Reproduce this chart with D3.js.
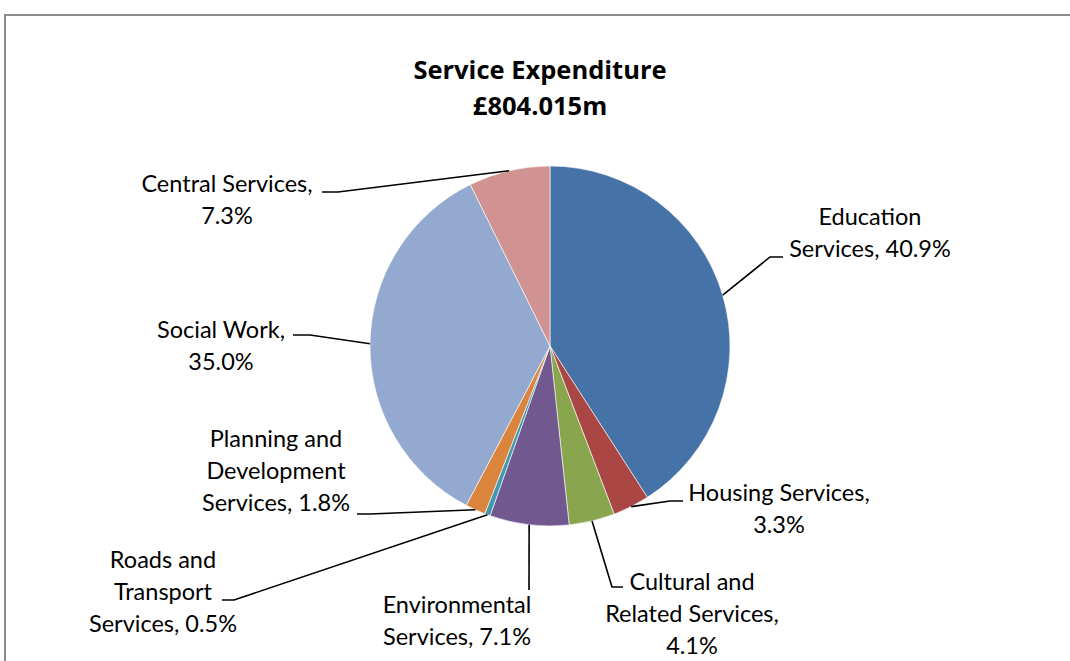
<!DOCTYPE html>
<html>
<head>
<meta charset="utf-8">
<script src="https://cdn.jsdelivr.net/npm/d3@7"></script>
<style>
  html, body { margin: 0; padding: 0; background: #fff; }
  svg { display: block; }
  text { font-family: Lato, "Open Sans", sans-serif; fill: #000; }
</style>
</head>
<body>
<svg id="chart" width="1070" height="661"></svg>
<script>
// Service expenditure breakdown (percent of total)
const categories = [
  "Education Services",
  "Housing Services",
  "Cultural and Related Services",
  "Environmental Services",
  "Roads and Transport Services",
  "Planning and Development Services",
  "Social Work",
  "Central Services"
];
const shares = [40.9, 3.3, 4.1, 7.1, 0.5, 1.8, 35.0, 7.3];
const colors = ["#4572A7", "#AA4643", "#89A54E", "#71588F", "#4198AF", "#DB843D", "#93A9CF", "#D19392"];
const titleLines = ["Service Expenditure", "£804.015m"];

// Label placement: text centre, first baseline, word-break points, leader elbow and end
const labelLayout = [
  { x: 870, y: 225, breaks: [1],    elbow: [770, 257], end: [783, 257] },
  { x: 779, y: 501, breaks: [2],    elbow: [670, 501], end: [683, 501] },
  { x: 692, y: 590, breaks: [2, 4], elbow: [612, 587], end: [623, 587] },
  { x: 457, y: 613, breaks: [1],    elbow: [529, 590], end: [529, 590] },
  { x: 163, y: 568, breaks: [2, 3], elbow: [234, 600], end: [222, 600] },
  { x: 276, y: 447, breaks: [2, 3], elbow: [370, 514], end: [357, 514] },
  { x: 221, y: 338, breaks: [2],    elbow: [310, 335], end: [293, 335] },
  { x: 227, y: 192, breaks: [2],    elbow: [338, 192], end: [322, 192] }
];
const lineGap = 32;

const svg = d3.select("#chart");
const cx = 550, cy = 346, R = 180;

// chart area frame
svg.append("rect")
  .attr("x", 5).attr("y", 15)
  .attr("width", 1200).attr("height", 800)
  .attr("fill", "#fff")
  .attr("stroke", "#8c8c8c")
  .attr("stroke-width", 2);

// title
const title = svg.append("text")
  .attr("text-anchor", "middle")
  .style("font-family", "'Open Sans', Lato, sans-serif")
  .style("font-weight", "bold")
  .style("font-size", "25.5px");
titleLines.forEach((t, i) => {
  title.append("tspan").attr("x", 540).attr("y", 79 + i * 36).text(t);
});

const data = categories.map((c, i) => ({ name: c, value: shares[i], color: colors[i], layout: labelLayout[i] }));

const pie = d3.pie().sort(null).value(d => d.value).startAngle(0).endAngle(2 * Math.PI);
const arcs = pie(data);
const arc = d3.arc().innerRadius(0).outerRadius(R);
const edge = d3.arc().innerRadius(R).outerRadius(R);

const g = svg.append("g").attr("transform", `translate(${cx},${cy})`);

g.selectAll("path.slice")
  .data(arcs)
  .join("path")
  .attr("class", "slice")
  .attr("d", arc)
  .attr("fill", d => d.data.color)
  .attr("stroke", "#fff")
  .attr("stroke-width", 0.6);

// leader lines from slice edge to label
svg.selectAll("polyline.leader")
  .data(arcs)
  .join("polyline")
  .attr("class", "leader")
  .attr("fill", "none")
  .attr("stroke", "#000")
  .attr("stroke-width", 1.6)
  .attr("points", d => {
    const [ex, ey] = edge.centroid(d);
    const L = d.data.layout;
    return [[cx + ex, cy + ey], L.elbow, L.end].map(p => p.join(",")).join(" ");
  });

// data labels
const fmt = d3.format(".1f");
const labels = svg.selectAll("text.label")
  .data(arcs)
  .join("text")
  .attr("class", "label")
  .attr("text-anchor", "middle")
  .style("font-size", "23.5px");

labels.each(function (d) {
  const L = d.data.layout;
  const words = `${d.data.name}, ${fmt(d.data.value)}%`.split(" ");
  const cuts = [0, ...L.breaks, words.length];
  const lines = [];
  for (let i = 0; i < cuts.length - 1; i++) lines.push(words.slice(cuts[i], cuts[i + 1]).join(" "));
  const t = d3.select(this);
  lines.forEach((ln, i) => {
    t.append("tspan").attr("x", L.x).attr("y", L.y + i * lineGap).text(ln);
  });
});
</script>
</body>
</html>
